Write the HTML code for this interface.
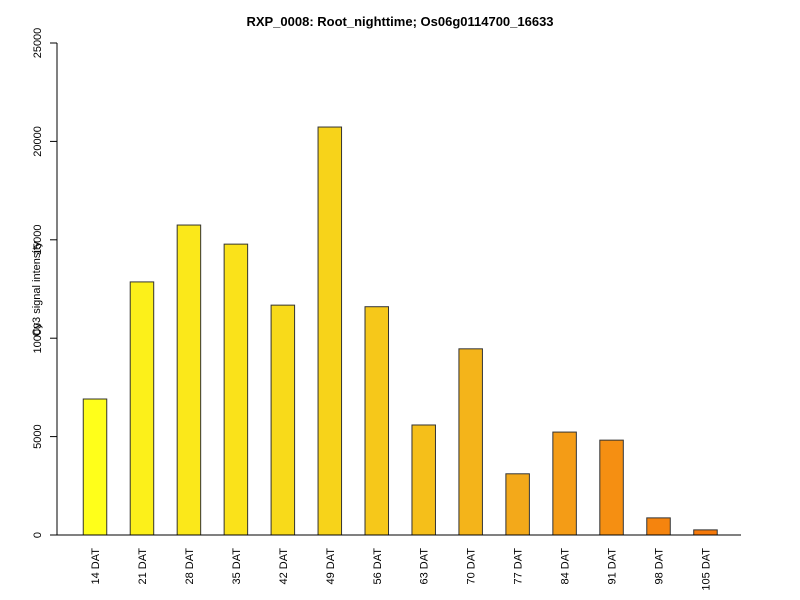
<!DOCTYPE html>
<html><head><meta charset="utf-8"><style>body{margin:0;background:#fff}svg{display:block;font-family:"Liberation Sans",sans-serif}</style></head>
<body>
<svg id="c" width="800" height="600"></svg>
<script>
const categories=["14 DAT","21 DAT","28 DAT","35 DAT","42 DAT","49 DAT","56 DAT","63 DAT","70 DAT","77 DAT","84 DAT","91 DAT","98 DAT","105 DAT"];
const values=[6910,12860,15750,14780,11680,20730,11600,5590,9460,3110,5230,4820,870,260];
const yTicks=[0,5000,10000,15000,20000,25000];
const colors=["#FFFF1A","#FCF01A","#FBE81A","#FAE21A","#F8DA1A","#F7D31A","#F6C81A","#F5BF1A","#F4B41A","#F3A91A","#F49C16","#F58F12","#F5840E","#F5790A"];
const NS="http://www.w3.org/2000/svg",svg=document.getElementById('c');
const y0=535,yTop=43,yMax=25000;
const y=v=>y0-(v/yMax)*(y0-yTop);
const x=i=>95+i*46.96;
function el(t,a,txt){const e=document.createElementNS(NS,t);for(const k in a)e.setAttribute(k,a[k]);if(txt!=null)e.textContent=txt;svg.appendChild(e);return e;}
let t=el('text',{x:400,y:26,'text-anchor':'middle','font-size':13,'font-weight':'bold'},'RXP_0008: Root_nighttime; Os06g0114700_16633');


t=el('text',{x:0,y:0,transform:'translate(40,289) rotate(-90)','text-anchor':'middle','font-size':11},'Cy3 signal intensity');


let a=el('line',{x1:57,x2:57,y1:y(0),y2:y(25000),stroke:'#000'});


yTicks.forEach(v=>{
 const l=el('line',{x1:50,x2:57,y1:y(v),y2:y(v),stroke:'#000'});
 
 
 const tx=el('text',{x:0,y:0,transform:`translate(41,${y(v)}) rotate(-90)`,'text-anchor':'middle','font-size':11},String(v));
 
 
});
values.forEach((v,i)=>{
 const r=el('rect',{x:x(i)-11.75,y:y(v),width:23.5,height:y0-y(v),fill:colors[i],stroke:'#333','stroke-width':1});
 
 
 const tx=el('text',{x:0,y:0,transform:`translate(${x(i)+4},548) rotate(-90)`,'text-anchor':'end','font-size':11},categories[i]);
 
 
});
a=el('line',{x1:57,x2:741,y1:y0,y2:y0,stroke:'#000'});


</script>
</body></html>
